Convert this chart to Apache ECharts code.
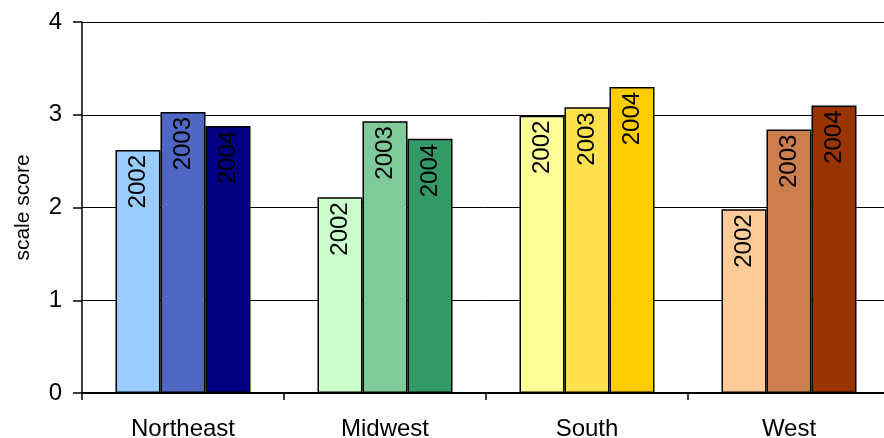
<!DOCTYPE html>
<html lang="en">
<head>
    <meta charset="UTF-8">
    <title>scale score</title>
    <script src="https://cdn.jsdelivr.net/npm/echarts@6/dist/echarts.min.js"></script>
    <style>
        html, body { margin: 0; padding: 0; background: #fff; }
        #chart { width: 884px; height: 438px; }
    </style>
</head>
<body>
    <div id="chart"></div>
    <script>
        // 数据
        const regions = ['Northeast', 'Midwest', 'South', 'West'];
        const years = ['2002', '2003', '2004'];
        const score2002 = [2.62, 2.11, 2.99, 1.98];
        const score2003 = [3.03, 2.93, 3.08, 2.84];
        const score2004 = [2.88, 2.74, 3.30, 3.10];
        const yTicks = [0, 1, 2, 3, 4];
        // 每个地区一组颜色 (2002, 2003, 2004)
        const regionColors = [
            ['#99CCFF', '#4F66C2', '#000080'],
            ['#CCFFCC', '#7FCA9A', '#339966'],
            ['#FFFF99', '#FFE14D', '#FFCC00'],
            ['#FFCC99', '#CC7E4E', '#993300']
        ];

        const font = 'Liberation Sans, Arial, sans-serif';
        const allScores = [score2002, score2003, score2004];

        let series = years.map((yr, i) => ({
            name: yr,
            type: 'bar',
            barWidth: 45,
            barGap: '0%',
            data: allScores[i].map((v, j) => ({
                value: v,
                itemStyle: { color: regionColors[j][i] }
            })),
            itemStyle: { borderColor: '#000', borderWidth: 1.5 },
            label: {
                show: true,
                formatter: '{a}',
                position: 'insideTop',
                rotate: 90,
                align: 'right',
                verticalAlign: 'middle',
                distance: 5,
                color: '#000',
                fontSize: 24,
                fontFamily: font
            },
            emphasis: { disabled: true }
        }));

        let chart = echarts.init(document.getElementById('chart'));
        chart.setOption({
            animation: false,
            backgroundColor: '#fff',
            grid: { left: 82, right: -6, top: 22, bottom: 45, containLabel: false, outerBoundsMode: 'none' },
            xAxis: {
                type: 'category',
                data: regions,
                axisLine: { lineStyle: { color: '#000', width: 2 } },
                axisTick: { show: true, length: 7, lineStyle: { color: '#000', width: 1.5 } },
                axisLabel: { color: '#000', fontSize: 24, fontFamily: font, margin: 24 },
                splitLine: { show: false }
            },
            yAxis: {
                type: 'value',
                min: yTicks[0],
                max: yTicks[yTicks.length - 1],
                interval: 1,
                name: 'scale score',
                nameLocation: 'middle',
                nameGap: 48,
                nameRotate: 90,
                nameTextStyle: { color: '#000', fontSize: 21, fontFamily: font },
                axisLine: { show: true, lineStyle: { color: '#000', width: 1.5 } },
                axisTick: { show: true, length: 9, lineStyle: { color: '#000', width: 1.5 } },
                axisLabel: { color: '#000', fontSize: 24, fontFamily: font, margin: 20 },
                splitLine: { show: true, lineStyle: { color: '#000', width: 1 } }
            },
            series: series
        });
    </script>
</body>
</html>
